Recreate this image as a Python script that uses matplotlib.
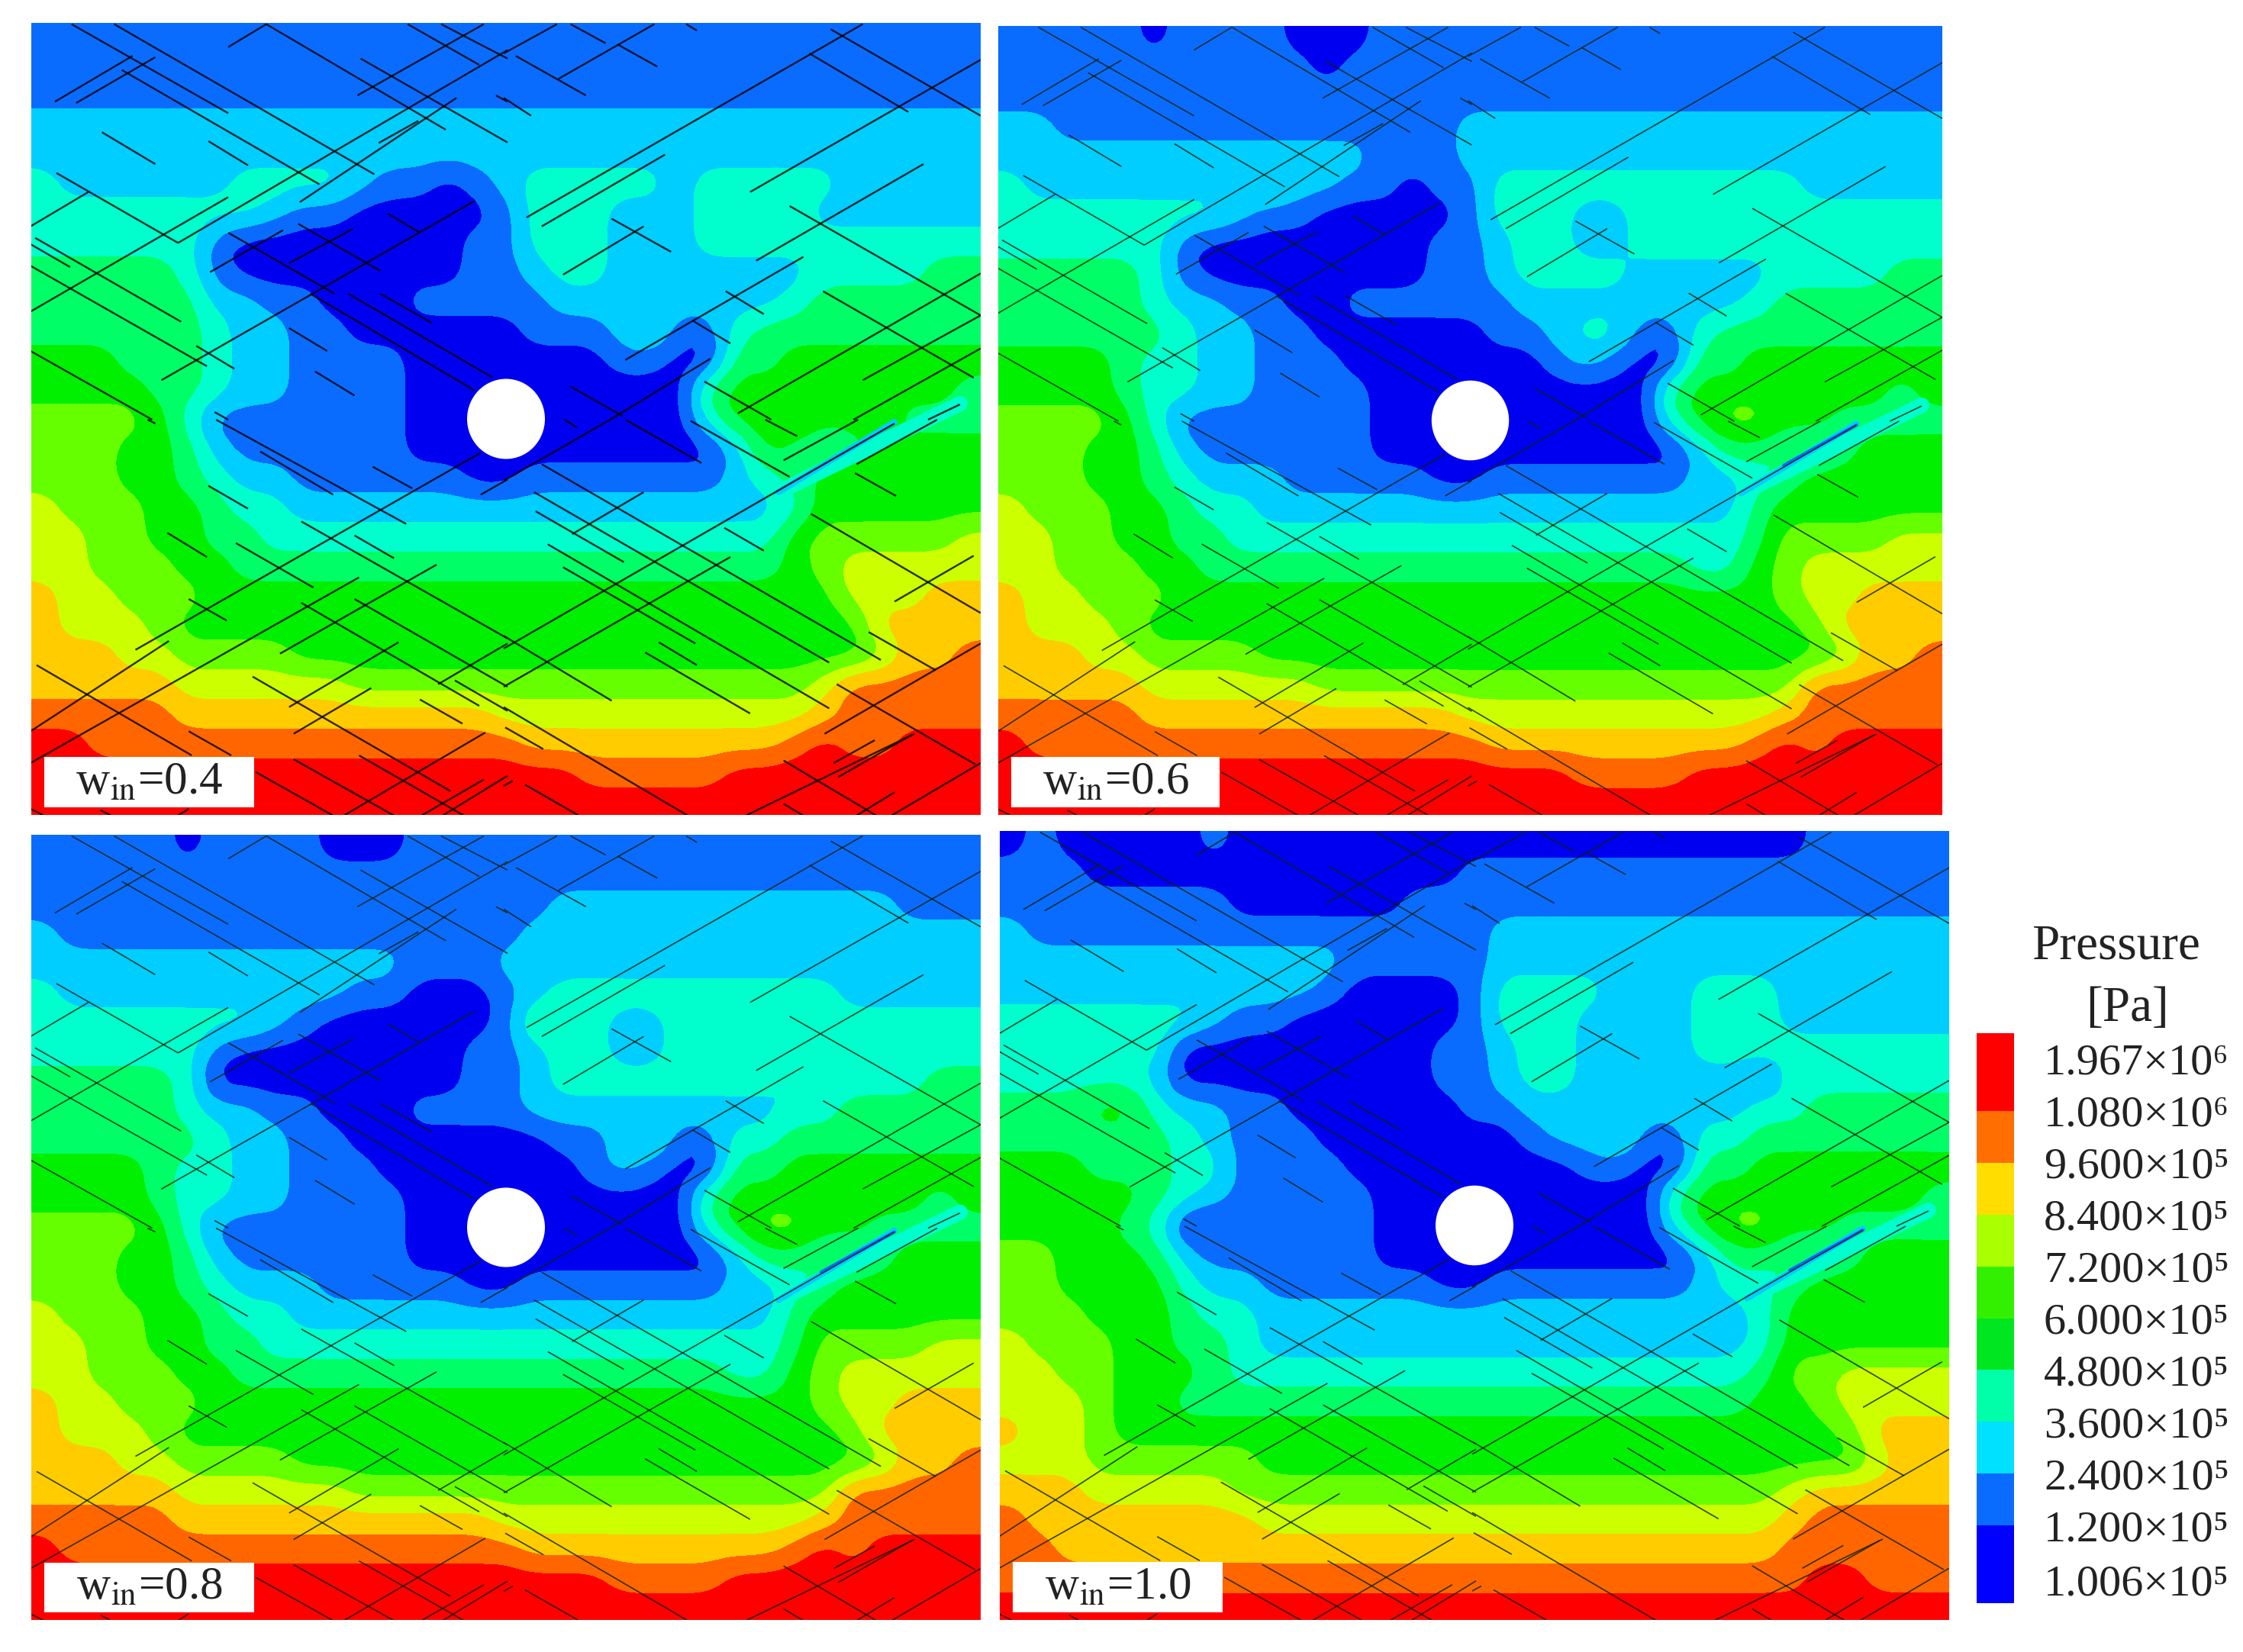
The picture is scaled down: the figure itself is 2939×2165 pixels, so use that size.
import numpy as np
import matplotlib
matplotlib.use("Agg")
import matplotlib.pyplot as plt
from matplotlib.patches import Ellipse, Rectangle
from matplotlib.collections import LineCollection

plt.rcParams["font.family"] = ["Liberation Serif", "DejaVu Serif"]
plt.rcParams["mathtext.fontset"] = "stix"

# ------------- pressure band read per cell (0 = lowest ... a = highest) -------------
FIELD_04 = [
    "11111 11111 11111 11111 11111 11111 111",
    "11111 11111 11111 11111 11111 11111 111",
    "11111 11111 11111 11111 11111 11111 111",
    "22222 22222 22222 22222 22222 22222 222",
    "22222 22222 22222 22222 22222 22222 222",
    "3 22222 2 3333 2 11 0 1 2 33333 2 33333 22222",
    "33333333 2 11 00000 1 333 222 3333 222222",
    "333333 1 00000000 11 333 222 3333333333",
    "44444 3 1 00000000 11 2 33 2222222 3333 44",
    "444444 22 11 000 11111 22222222 3 444444",
    "444444 3 22 11 000000 111 2 3 11 3 44444444",
    "555 444 3 22 1111 0000000 1 1 00 44 5555555",
    "5555 44 3 22 1111 0000000000 4 55555555 4",
    "6666 5 3 1111111 0000000000 3 55 6 55 5 4 4 4",
    "666 55 4 2 111111 0000000000 0 2 5 4 3 4 5 555",
    "666 55 4 3 22 111111 00 1111111 2 3 4 555555",
    "7 666 55 4 33 22222222222222222 3 555555",
    "77 66 55 44 333333333333333333 5 66666 7",
    "77 666 55 4444444444444444444 5 6 77777",
    "8 77 666 555555555555555555555 5 77 7 88",
    "8 777 6 55555555555555555555555 5 8888",
    "888 77 6666 55555555555555555555 6 88 9",
    "88888 777777 6666666666666666 7 99999",
    "99999 88888888888 77777777777 8 99999",
    "aa 9999999999999 99 888888888 9 a 99 aaa",
    "aaaaaaaaaaaaaaaaaaa 99999 aaaaaaaaa",
    "aaaaaaaaaaaaaaaaaaaaaaaaaaaaaaaaa",
]

FIELD_06 = [
    "11111 0 1111 000 11111111111111111111",
    "11111111111 0 111111111111111111111",
    "11111 11111 11111 11111 11111 11111 111",
    "22 11111111111111 22222222222222222",
    "2222222222222 111 22222222222222222",
    "3 22222222 3 22 11 0 11 33333333333 22222",
    "33333333 2 11 00000 1 333 22 33333333333",
    "333333 1 00000000 11 2 33 22 33333333333",
    "44444 3 1 00000000 11 2 3333 22222 3333 44",
    "44444 3 22 11 00 111111 22222222 3 444444",
    "444444 3 22 11 000000 11 2 33 11 3 44444444",
    "5555 4 33 22 111 0000000 1 2 1 00 44 5555555",
    "5555 4 33 22 1111 0000000000 4 5555555 4 5",
    "6666 5 3 1111111 0000000000 3 5 66 5 5 4 4 4",
    "666 55 4 2 111111 0000000000 0 2 44 33 4 5 55",
    "666 55 4 3 222 11111 00 1111111 22 3 4 55555",
    "7 666 55 4 33 22222222222222222 4 555555",
    "77 66 55 44 333333333333333333 4 6666 77",
    "77 666 55 44444444444444444 33 5 6 77777",
    "8 77 666 555555555555555555555 6 77 888",
    "8 777 6 55555555555555555555555 6 8888",
    "888 77 6666 55555555555555555555 6 88 9",
    "88888 777777 66666666666666666 99999",
    "99999 88888888888 77777777777 8 99999",
    "a 9999999999999999 888888888 9 a 9 aaaa",
    "aaaaaaaaaaaaaaaaaaaa 9999 aaaaaaaaa",
    "aaaaaaaaaaaaaaaaaaaaaaaaaaaaaaaaa",
]

FIELD_08 = [
    "11111 0 1111 000 11111111111111111111",
    "11111 11111 11111 11111 11111 11111 111",
    "111111111111111111 222222222222 111",
    "2 1111111111111111 2222222222222222",
    "2222222222222 111 22222222222222222",
    "3 2222222222 11 000 1 2 3333333333 22222",
    "33333333 2 1 000000 1 4 33 22 33333333333",
    "333333 1 00000000 11 2 33 22 33333333333",
    "44444 3 0 00000000 11 2 33333333 2 3333 44",
    "44444 3 22 11 000 1111 222222222 33 44444",
    "444444 3 22 11 0000000 11 2 3 11 33 4444444",
    "5555 4 33 22 111 0000000 1 2 1 00 44 5555555",
    "5555 4 33 22 1111 0000000000 4 5555555 4 5",
    "6666 5 3 1111111 0000000000 3 5 66 5 5 4 4 4",
] + FIELD_06[14:]

FIELD_10 = [
    "0 1 00000 1 000000000 00000000000 11111",
    "111 0000000000000 11111111111111111",
    "11111111 000000 1111111111111111111",
    "2 1111111111111111 2222222222222222",
    "222222222222 11111 2222222222222222",
    "22222222222 1 0000 1 3333 222 333 222222",
    "3333333 2 11 000000 1 333 2222 333 222222",
    "333333 0 00000000 11 2 33 2222 333333333",
    "33333 2 0 00000000 11 2 33 222222 1 333333",
    "444 55 3 22 11 000 1 00 11 22222222 33 44444",
    "444444 3 2 111 0000000 1 22 3 11 33 4444444",
    "555 444 33 1111 00000000 1 1 00 44 5555555",
    "55555 4 3 2 11111 0000000000 4 55555555 4",
    "5555 4 3 00 11111 0000000000 3 5 66 55 4 4 4 4",
    "66 555 4 2 111111 0000000000 0 2 44 3 3 4 5 5 5",
    "66 5555 3 22 111111 00 1111111 2 33 4 55555",
    "666 555 4 33 22222222222222222 3 555555",
    "7 666 55 44 3 22222222222222222 3 555555",
    "77 66 555 4 33333333333333333 3 4 66 7777",
    "777 6 55 44444444444444444444 55 6 7777",
    "8 77 6 5555555555555555555555555 6 888",
    "777 666666 555555555555555555555 7 88",
    "888 77777 6666666666666666666 7 88888",
    "9 88888888 777777777777777777 8 99999",
    "99 8888888888888888888888888 999999",
    "9999999999999999999999999999 aa 999",
    "aaaaaaaaaaaaaaaaaaaaaaaaaaaaaaaaa",
]

FRACTURES_TL = [
    (135, 5, 650, 355), (275, 5, 1130, 595), (775, 5, 1365, 420), (1085, 140, 1568, 470),
    (1240, 5, 1475, 165), (1350, 5, 1568, 140), (650, 95, 775, 5), (1075, 285, 1490, 5),
    (80, 310, 335, 130), (150, 315, 410, 135), (300, 185, 950, 635), (235, 430, 410, 555),
    (585, 465, 715, 560), (85, 590, 485, 865), (0, 800, 190, 665), (485, 865, 1568, 107),
    (0, 1135, 650, 685), (885, 705, 1400, 295), (1145, 472, 1275, 385), (0, 870, 130, 960),
    (15, 845, 495, 1175), (0, 955, 580, 1350), (0, 1290, 400, 1560), (430, 1405, 1460, 700),
    (590, 980, 830, 815), (850, 945, 1060, 810), (650, 825, 1000, 1065), (920, 1065, 1460, 1445),
    (1045, 1065, 1520, 1395), (1150, 1065, 1320, 1180), (880, 790, 1150, 975), (1175, 750, 1280, 825),
    (850, 1200, 975, 1290), (935, 1370, 1065, 1465), (545, 1270, 670, 1360), (605, 1530, 650, 1560),
    (1530, 285, 1568, 310),
]
FRACTURES_TR = [
    (0, 120, 175, 5), (220, 5, 335, 80), (180, 220, 495, 5), (600, 5, 635, 30),
    (375, 85, 505, 172), (40, 130, 270, 285), (0, 295, 90, 365), (75, 765, 1180, 5),
    (125, 800, 530, 518), (355, 770, 550, 900), (195, 990, 460, 800), (810, 665, 1568, 145),
    (1005, 120, 1330, 350), (1075, 25, 1568, 365), (830, 935, 1380, 555), (940, 720, 1568, 1150),
    (400, 1325, 985, 920), (730, 1055, 855, 1145), (620, 1170, 745, 1260), (1050, 1055, 1545, 1395),
    (770, 1535, 1568, 985), (1180, 1405, 1568, 1150), (1150, 1560, 1568, 1280), (660, 1410, 880, 1560),
    (1395, 1560, 1500, 1500), (350, 1560, 680, 1320), (220, 1430, 390, 1545),
]
FRACTURES_BL = [
    (610, 0, 1235, 410), (755, 125, 995, 295), (585, 260, 715, 350), (1125, 185, 1255, 270),
    (890, 400, 1568, 860), (1065, 455, 1195, 545), (450, 445, 580, 540), (675, 485, 930, 660),
    (520, 705, 645, 790), (890, 720, 1475, 1125), (1065, 705, 1568, 1050), (345, 905, 1480, 130),
    (0, 1225, 455, 870), (0, 1350, 1080, 620), (820, 920, 1335, 570), (20, 965, 530, 1320),
    (850, 1130, 1210, 875), (730, 1010, 1380, 1460), (865, 1235, 1120, 1055), (1280, 1100, 1420, 1195),
    (1340, 1040, 1568, 880), (1395, 1025, 1568, 1145), (1025, 1560, 1495, 1230), (520, 1225, 660, 1320),
    (865, 1335, 1200, 1560), (1080, 1320, 1430, 1560), (740, 1385, 1000, 1560), (1280, 1560, 1490, 1415),
    (1350, 1560, 1568, 1400), (1480, 295, 1568, 235), (0, 1530, 50, 1560), (230, 1535, 270, 1560),
    (480, 1560, 520, 1530), (385, 0, 410, 15),
]
FRACTURES_BR = [
    (0, 240, 350, 0), (200, 0, 240, 30), (400, 0, 650, 170), (615, 5, 940, 225),
    (860, 0, 965, 65), (920, 160, 1165, 0), (0, 900, 1285, 15), (1160, 175, 1425, 0),
    (1155, 210, 1290, 300), (125, 175, 1240, 945), (100, 285, 1070, 955), (105, 360, 395, 560),
    (145, 490, 1070, 1135), (195, 580, 630, 880), (225, 450, 460, 285), (725, 425, 855, 515),
    (1010, 370, 1568, 760), (1285, 715, 1545, 535), (0, 1050, 745, 540), (0, 850, 355, 1105),
    (510, 875, 635, 965), (465, 915, 810, 1155), (1200, 835, 1420, 985), (1055, 1235, 1568, 880),
    (1095, 1040, 1550, 1355), (790, 1560, 1350, 1235), (1085, 1350, 1220, 1260), (1100, 1405, 1340, 1240),
    (920, 1340, 1230, 1560), (1270, 1560, 1568, 1350), (1155, 1560, 1285, 1465), (0, 1130, 610, 1560),
    (5, 1210, 130, 1295), (70, 1435, 245, 1555), (0, 1440, 30, 1420), (920, 1510, 990, 1560),
]
CROP_ORIGINS = [(40, 30), (660, 30), (40, 550), (660, 550)]

PANEL_LABELS = ["0.4", "0.6", "0.8", "1.0"]

BAND_COLORS = ["#0000f0", "#0a6cff", "#00ceff", "#00ffcc", "#00ff66", "#00f000",
               "#66ff00", "#ccff00", "#ffcc00", "#ff6600", "#ff0000"]

# ------------- legend -------------
LEGEND_COLORS = ["#0000ff", "#0a6cff", "#00e0ff", "#00ffa8", "#00e620", "#33f000",
                 "#aaff00", "#ffdd00", "#ff6e00", "#ff0000"]
LEGEND_HEIGHTS = [1.5, 1, 1, 1, 1, 1, 1, 1, 1, 1.5]
LEGEND_TICKS = [0.45, 1.5, 2.5, 3.5, 4.5, 5.5, 6.5, 7.5, 8.5, 9.5, 10.5]
LEGEND_LABELS = ["1.006×10⁵", "1.200×10⁵", "2.400×10⁵", "3.600×10⁵", "4.800×10⁵", "6.000×10⁵",
                 "7.200×10⁵", "8.400×10⁵", "9.600×10⁵", "1.080×10⁶", "1.967×10⁶"]

W, H = 2939, 2165
DPI = 100
PX = 72 / DPI


def px_axes(fig, x0, y0, x1, y1):
    return fig.add_axes([x0 / W, 1 - y1 / H, (x1 - x0) / W, (y1 - y0) / H])


def parse_field(rows):
    grid = []
    for r in rows:
        vals = [int(c, 16) for c in r.replace(" ", "")]
        grid.append((vals + vals[-1:] * 33)[:33])
    return np.array(grid, dtype=float)


def soften(grid, k=6, w=7):
    # only rounds the cell corners so the bands look like contours
    fine = np.repeat(np.repeat(grid, k, axis=0), k, axis=1)
    box = np.ones(w) / w
    for _ in range(2):
        pad = np.pad(fine, w // 2, mode="edge")
        pad = np.apply_along_axis(lambda a: np.convolve(a, box, mode="same"), 0, pad)
        pad = np.apply_along_axis(lambda a: np.convolve(a, box, mode="same"), 1, pad)
        fine = pad[w // 2:-(w // 2), w // 2:-(w // 2)]
    return fine


fig = plt.figure(figsize=(W / DPI, H / DPI), dpi=DPI, facecolor="white")

# all panels share the top left panel's pixel frame as data units
X0, X1, Y0, Y1 = 41, 1285, 30, 1068

segments = []
for crop, (ox, oy) in zip([FRACTURES_TL, FRACTURES_TR, FRACTURES_BL, FRACTURES_BR], CROP_ORIGINS):
    for a, b, c, d in crop:
        segments.append(((ox + a / 2.509, oy + b / 3), (ox + c / 2.509, oy + d / 3)))

panels = [
    (FIELD_04, (41, 30, 1285, 1068), "#000000", 2.4, 0.8, False),
    (FIELD_06, (1308, 34, 2545, 1068), "#0a200a", 1.7, 0.8, True),
    (FIELD_08, (41, 1094, 1285, 2123), "#0a200a", 1.7, 0.8, True),
    (FIELD_10, (1310, 1089, 2554, 2123), "#0a200a", 1.7, 0.8, True),
]

for (rows, box, line_color, lw, alpha, deep), label in zip(panels, PANEL_LABELS):
    ax = px_axes(fig, *box)
    field = soften(parse_field(rows))
    xs = np.linspace(X0, X1, field.shape[1])
    ys = np.linspace(Y0, Y1, field.shape[0])
    ax.contourf(xs, ys, field, levels=np.arange(-0.5, 11), colors=BAND_COLORS)
    # low pressure streak along the long fracture on the right
    ax.plot([1258, 1030], [529, 640], color=BAND_COLORS[3], lw=20 * PX, solid_capstyle="round", zorder=2)
    ax.plot([1172, 1020], [553, 645], color=BAND_COLORS[2], lw=8 * PX, solid_capstyle="round", zorder=2)
    if deep:
        ax.plot([1172, 1076], [555, 608], color=BAND_COLORS[1], lw=4 * PX, solid_capstyle="round", zorder=2)
    ax.add_patch(Ellipse((663, 549), 102, 105, facecolor="white", edgecolor="none", zorder=3))
    ax.add_collection(LineCollection(segments, colors=line_color, linewidths=lw * PX, alpha=alpha, zorder=4))
    ax.add_patch(Rectangle((58, 992), 275, 66, facecolor="white", edgecolor="none", zorder=5))
    ax.text(196, 1026, r"w$_{\mathrm{in}}$=" + label, fontsize=44, ha="center", va="center",
            color="#222222", zorder=6)
    ax.set_xlim(X0, X1)
    ax.set_ylim(Y1, Y0)
    ax.axis("off")

# legend bar
lax = px_axes(fig, 2590, 1354, 2639, 2101)
bottoms = np.concatenate([[0], np.cumsum(LEGEND_HEIGHTS)[:-1]])
lax.bar(0, LEGEND_HEIGHTS, bottom=bottoms, width=1, color=LEGEND_COLORS, align="center")
lax.set_xlim(-0.5, 0.5)
lax.set_ylim(0, 11)
lax.set_xticks([])
lax.yaxis.tick_right()
lax.set_yticks(LEGEND_TICKS)
lax.set_yticklabels(LEGEND_LABELS, fontsize=42, color="#222222")
lax.tick_params(axis="y", length=0, pad=28)
for s in lax.spines.values():
    s.set_visible(False)

fig.text(2772 / W, 1 - 1241 / H, "Pressure", fontsize=47, ha="center", va="center", color="#222222")
fig.text(2788 / W, 1 - 1322 / H, "[Pa]", fontsize=47, ha="center", va="center", color="#222222")

fig.savefig("out.png", dpi=DPI, facecolor="white")
